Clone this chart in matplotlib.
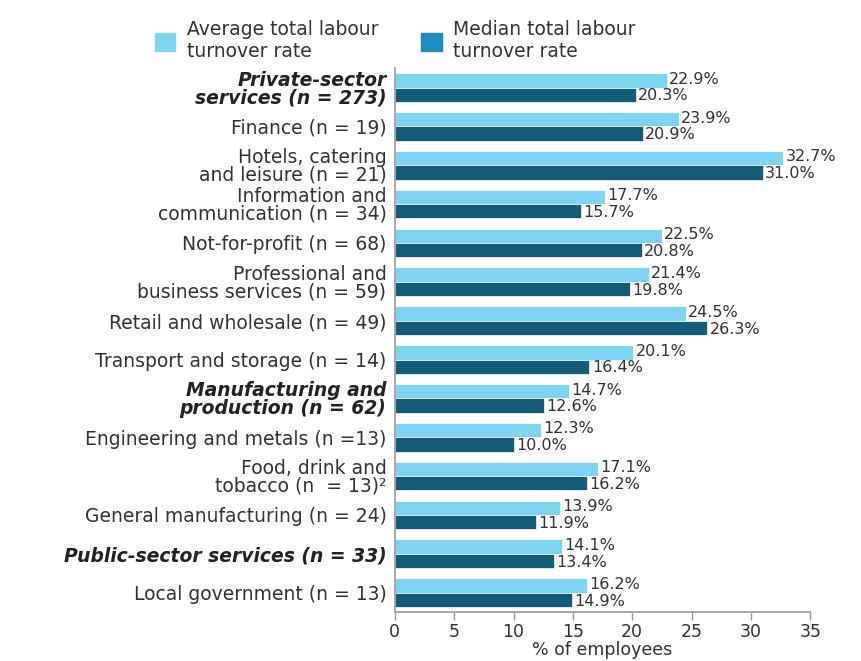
import matplotlib
matplotlib.use("Agg")
import matplotlib.pyplot as plt
from matplotlib.patches import Patch

# data
categories = [
    "Private-sector\nservices (n = 273)",
    "Finance (n = 19)",
    "Hotels, catering\nand leisure (n = 21)",
    "Information and\ncommunication (n = 34)",
    "Not-for-profit (n = 68)",
    "Professional and\nbusiness services (n = 59)",
    "Retail and wholesale (n = 49)",
    "Transport and storage (n = 14)",
    "Manufacturing and\nproduction (n = 62)",
    "Engineering and metals (n =13)",
    "Food, drink and\ntobacco (n  = 13)\u00b2",
    "General manufacturing (n = 24)",
    "Public-sector services (n = 33)",
    "Local government (n = 13)",
]
bold_rows = [0, 8, 12]
average = [22.9, 23.9, 32.7, 17.7, 22.5, 21.4, 24.5, 20.1, 14.7, 12.3, 17.1, 13.9, 14.1, 16.2]
median = [20.3, 20.9, 31.0, 15.7, 20.8, 19.8, 26.3, 16.4, 12.6, 10.0, 16.2, 11.9, 13.4, 14.9]
series_names = ["Average total labour\nturnover rate", "Median total labour\nturnover rate"]

light = "#7ED3F0"
dark = "#135B79"
legend_dark = "#1A8EC0"
text_col = "#333333"

plt.rcParams["font.family"] = ["DejaVu Sans"]

fig = plt.figure(figsize=(8.62, 6.61), dpi=100)
ax = fig.add_axes([0.458, 0.074, 0.482, 0.823])

h = 0.37
y = list(range(len(categories)))
ax.barh([i - h / 2 for i in y], average, height=h, color=light, edgecolor="white", linewidth=0.5)
ax.barh([i + h / 2 for i in y], median, height=h, color=dark, edgecolor="white", linewidth=0.5)

for i in y:
    ax.text(average[i] + 0.2, i - h / 2 - 0.03, f"{average[i]:.1f}%", va="center", ha="left",
            fontsize=11.5, color=text_col)
    ax.text(median[i] + 0.2, i + h / 2 + 0.03, f"{median[i]:.1f}%", va="center", ha="left",
            fontsize=11.5, color=text_col)

ax.set_xlim(0, 35)
ax.set_ylim(len(categories) - 0.5, -0.5)
ax.set_xticks(range(0, 36, 5))
ax.set_yticks(y)
ax.set_yticklabels(categories, fontsize=13.5, color=text_col, linespacing=0.9)
for i, lbl in enumerate(ax.get_yticklabels()):
    if i in bold_rows:
        lbl.set_fontweight("bold")
        lbl.set_fontstyle("italic")
        lbl.set_color("#222222")
ax.tick_params(axis="y", length=0, pad=6)
ax.tick_params(axis="x", labelsize=12.5, labelcolor=text_col, color="#999999", length=6, width=1,
               pad=2)
ax.set_xlabel("% of employees", fontsize=12.5, color=text_col, labelpad=0)

for s in ["top", "right"]:
    ax.spines[s].set_visible(False)
for s in ["left", "bottom"]:
    ax.spines[s].set_color("#999999")
    ax.spines[s].set_linewidth(1.2)

handles = [Patch(color=light), Patch(color=legend_dark)]
fig.legend(handles, series_names, loc="upper left", bbox_to_anchor=(0.16, 0.995), ncol=2,
           frameon=False, fontsize=13.5, handlelength=1.1, handleheight=1.1,
           columnspacing=2.3, handletextpad=0.6, labelcolor=text_col)

fig.savefig("out.png", dpi=100)
